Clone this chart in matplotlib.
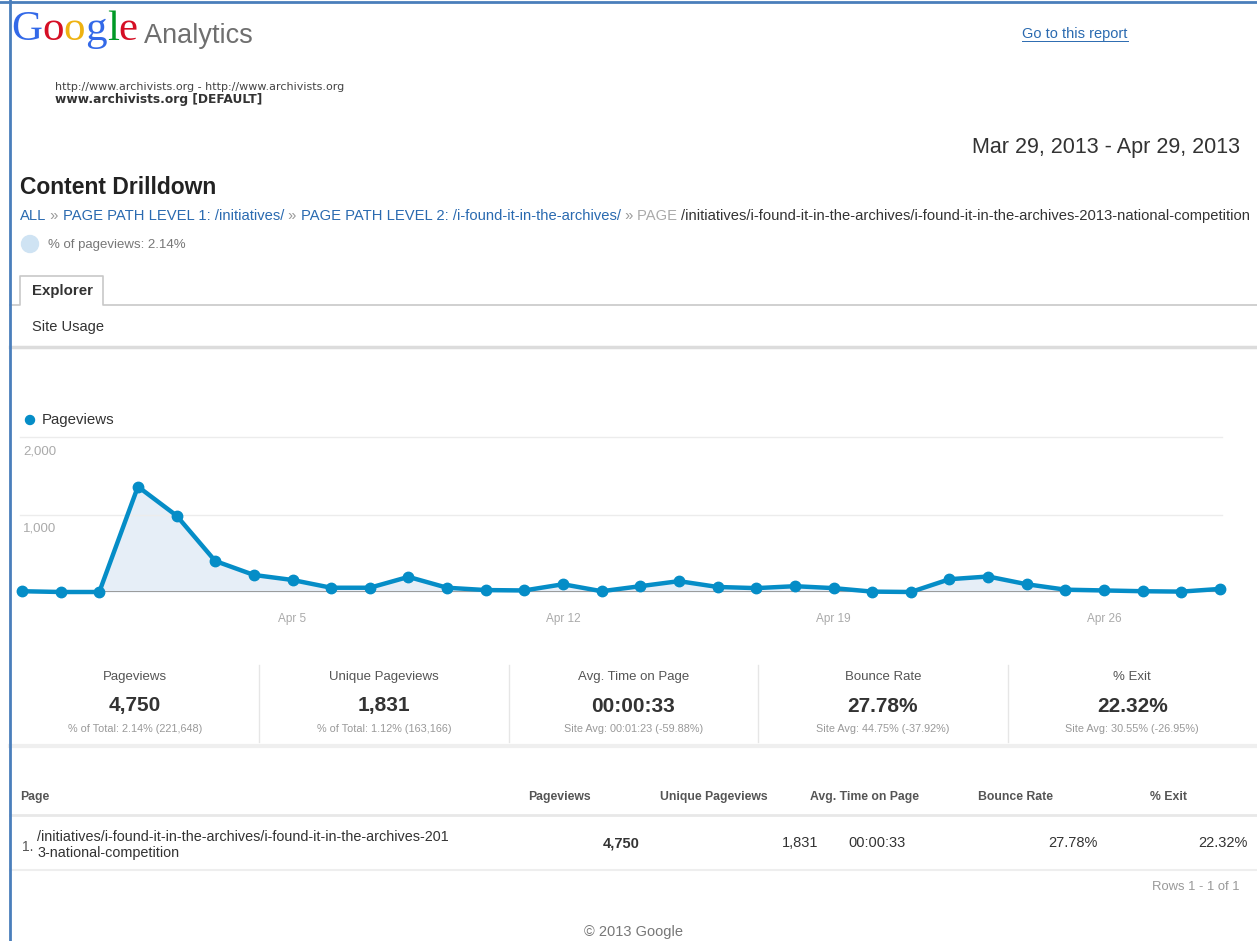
import matplotlib
matplotlib.use('Agg')
import numpy as np
import pandas as pd
import matplotlib.pyplot as plt
import matplotlib.dates as mdates

plt.rcParams['font.family'] = ['Liberation Sans', 'DejaVu Sans']

# daily pageviews, Mar 29 - Apr 29 2013
dates = pd.date_range('2013-03-29', '2013-04-29', freq='D')
pageviews = [10, 0, 0, 1360, 985, 400, 220, 155, 55, 55, 195, 55, 25, 20, 100, 10,
             75, 140, 65, 50, 75, 50, 5, 0, 165, 200, 100, 30, 20, 10, 5, 40]
y_ticks = [1000, 2000]
x_ticks = ['2013-04-05', '2013-04-12', '2013-04-19', '2013-04-26']

# scorecard row
metric_names = ['Pageviews', 'Unique Pageviews', 'Avg. Time on Page', 'Bounce Rate', '% Exit']
metric_values = ['4,750', '1,831', '00:00:33', '27.78%', '22.32%']
metric_subs = ['% of Total: 2.14% (221,648)', '% of Total: 1.12% (163,166)',
               'Site Avg: 00:01:23 (-59.88%)', 'Site Avg: 44.75% (-37.92%)',
               'Site Avg: 30.55% (-26.95%)']

# table
table_headers = ['Page', 'Pageviews', 'Unique Pageviews', 'Avg. Time on Page', 'Bounce Rate', '% Exit']
row_page = '/initiatives/i-found-it-in-the-archives/i-found-it-in-the-archives-201\n3-national-competition'
row_values = ['4,750', '1,831', '00:00:33', '27.78%', '22.32%']

W, H = 1257, 941
BLUE = '#058dc7'
LINK = '#2a6ab0'
GRAY = '#777777'

fig = plt.figure(figsize=(W / 100, H / 100), dpi=100)
fig.patch.set_facecolor('white')

# background axes in pixel coordinates
bg = fig.add_axes([0, 0, 1, 1])
bg.set_xlim(0, W)
bg.set_ylim(H, 0)
bg.axis('off')


def chain(parts, x, y, size, family=None, weight='normal'):
    kw = dict(fontsize=size, weight=weight)
    if family:
        kw['family'] = family
    t = bg.text(x, y, parts[0][0], color=parts[0][1], va='baseline', ha='left', **kw)
    for s, c in parts[1:]:
        t = bg.annotate(s, xy=(1, 0), xycoords=t, va='bottom', ha='left', color=c, **kw)
    return t


# frame
bg.plot([0, W], [1.5, 1.5], color='#4a7ebb', lw=2, zorder=10)
bg.plot([9.5, 9.5], [0, H], color='#4a7ebb', lw=2, zorder=10)

# logo
logo = [('G', '#3369e8'), ('o', '#d50f25'), ('o', '#eeb211'), ('g', '#3369e8'),
        ('l', '#009925'), ('e', '#d50f25')]
g = chain(logo, 11, 40, 31, family='Liberation Serif')
bg.annotate(' Analytics', xy=(1, 0), xycoords=g, va='bottom', ha='left',
            color='#6f6f6f', fontsize=19.5)

bg.text(1022, 34, 'Go to this report', color=LINK, fontsize=10.5, va='center')
bg.plot([1022, 1128], [41, 41], color=LINK, lw=0.7)

bg.text(55, 87, 'http://www.archivists.org - http://www.archivists.org', fontsize=8,
        color='#444', family='DejaVu Sans', va='center')
bg.text(55, 99, 'www.archivists.org [DEFAULT]', fontsize=8.8, color='#333',
        family='DejaVu Sans', weight='bold', va='center')

bg.text(1240, 147, 'Mar 29, 2013 - Apr 29, 2013', fontsize=15.5, color='#333',
        ha='right', va='center')
bg.text(20, 187, 'Content Drilldown', fontsize=16.5, weight='bold', color='#222', va='center')

crumbs = [('ALL', LINK), (' » ', '#999'), ('PAGE PATH LEVEL 1: /initiatives/', LINK),
          (' » ', '#999'), ('PAGE PATH LEVEL 2: /i-found-it-in-the-archives/', LINK),
          (' » ', '#999'), ('PAGE ', '#aaa'),
          ('/initiatives/i-found-it-in-the-archives/i-found-it-in-the-archives-2013-national-competition', '#333')]
chain(crumbs, 20, 220, 10.6)

bg.add_patch(plt.Circle((30, 244), 8.5, color='#cfe3f3'))
bg.text(48, 245, '% of pageviews: 2.14%', fontsize=9.5, color=GRAY, va='center')

# tabs
bg.plot([10, 20, 20, 103, 103, W], [305, 305, 276, 276, 305, 305], color='#c8c8c8', lw=1.2)
bg.text(32, 291, 'Explorer', fontsize=10.8, weight='bold', color='#333', va='center')
bg.text(32, 327, 'Site Usage', fontsize=10.5, color='#333', va='center')
bg.plot([10, W], [347, 347], color='#dcdcdc', lw=2.5)

# legend
bg.add_patch(plt.Circle((30, 420), 4.5, color=BLUE))
bg.text(42, 420, 'Pageviews', fontsize=10.8, color='#333', va='center')

# chart
x0, x1, y0, y1 = 22, 1220, 592, 437
ax = fig.add_axes([x0 / W, (H - y0) / H, (x1 - x0) / W, (y0 - y1) / H])
ax.set_xlim(dates[0], dates[-1])
ax.set_ylim(0, 2000)
for s in ax.spines.values():
    s.set_visible(False)
ax.patch.set_alpha(0)
for v in y_ticks:
    ax.axhline(v, xmin=-0.002, xmax=1.002, color='#ececec', lw=1, clip_on=False)
    ax.annotate(f'{v:,}', xy=(0, v), xycoords=('axes fraction', 'data'),
                xytext=(1, -6), textcoords='offset points', va='top', ha='left',
                fontsize=9.5, color='#aaa')
ax.fill_between(dates, pageviews, color='#e6eef7', lw=0)
ax.axhline(0, color='#8c8c8c', lw=1.2, zorder=2)
ax.plot(dates, pageviews, color=BLUE, lw=3.2, marker='o', ms=7.5, clip_on=False, zorder=3)
ax.set_yticks([])
ax.set_xticks(pd.to_datetime(x_ticks))
ax.xaxis.set_major_formatter(mdates.DateFormatter('%b %-d'))
ax.tick_params(axis='x', length=0, pad=15, labelsize=8.5, labelcolor='#aaa')

# scorecards
col_w = (W - 10) / 5
for i, (name, val, sub) in enumerate(zip(metric_names, metric_values, metric_subs)):
    cx = 10 + col_w * (i + 0.5)
    bg.text(cx, 677, name, ha='center', va='center', fontsize=9.5, color='#555')
    bg.text(cx, 706, val, ha='center', va='center', fontsize=15, weight='bold', color='#333')
    bg.text(cx, 729, sub, ha='center', va='center', fontsize=7.8, color='#999')
    if i > 0:
        sx = 10 + col_w * i
        bg.plot([sx, sx], [665, 742], color='#e6e6e6', lw=1)
bg.plot([10, W], [746, 746], color='#efefef', lw=3)

# table
head_x = [20, 528, 660, 810, 978, 1150]
for name, hx in zip(table_headers, head_x):
    bg.text(hx, 797, name, fontsize=8.8, weight='bold', color='#555', va='center')
bg.plot([10, W], [815, 815], color='#e8e8e8', lw=2)
bg.text(22, 847, '1.', fontsize=10, color='#555', va='center')
bg.text(37, 845, row_page, fontsize=10.4, color='#333', va='center', linespacing=1.2)
val_x = [640, 818, 906, 1098, 1248]
for i, (v, vx) in enumerate(zip(row_values, val_x)):
    bg.text(vx, 843, v, fontsize=10.5, ha='right', va='center', color='#333',
            weight='bold' if i == 0 else 'normal')
bg.plot([10, W], [870, 870], color='#eeeeee', lw=1.5)
bg.text(1240, 887, 'Rows 1 - 1 of 1', fontsize=9.4, ha='right', va='center', color='#999')
bg.text(633, 932, '© 2013 Google', fontsize=10.5, ha='center', va='center', color='#777')

fig.savefig('out.png', dpi=100)
